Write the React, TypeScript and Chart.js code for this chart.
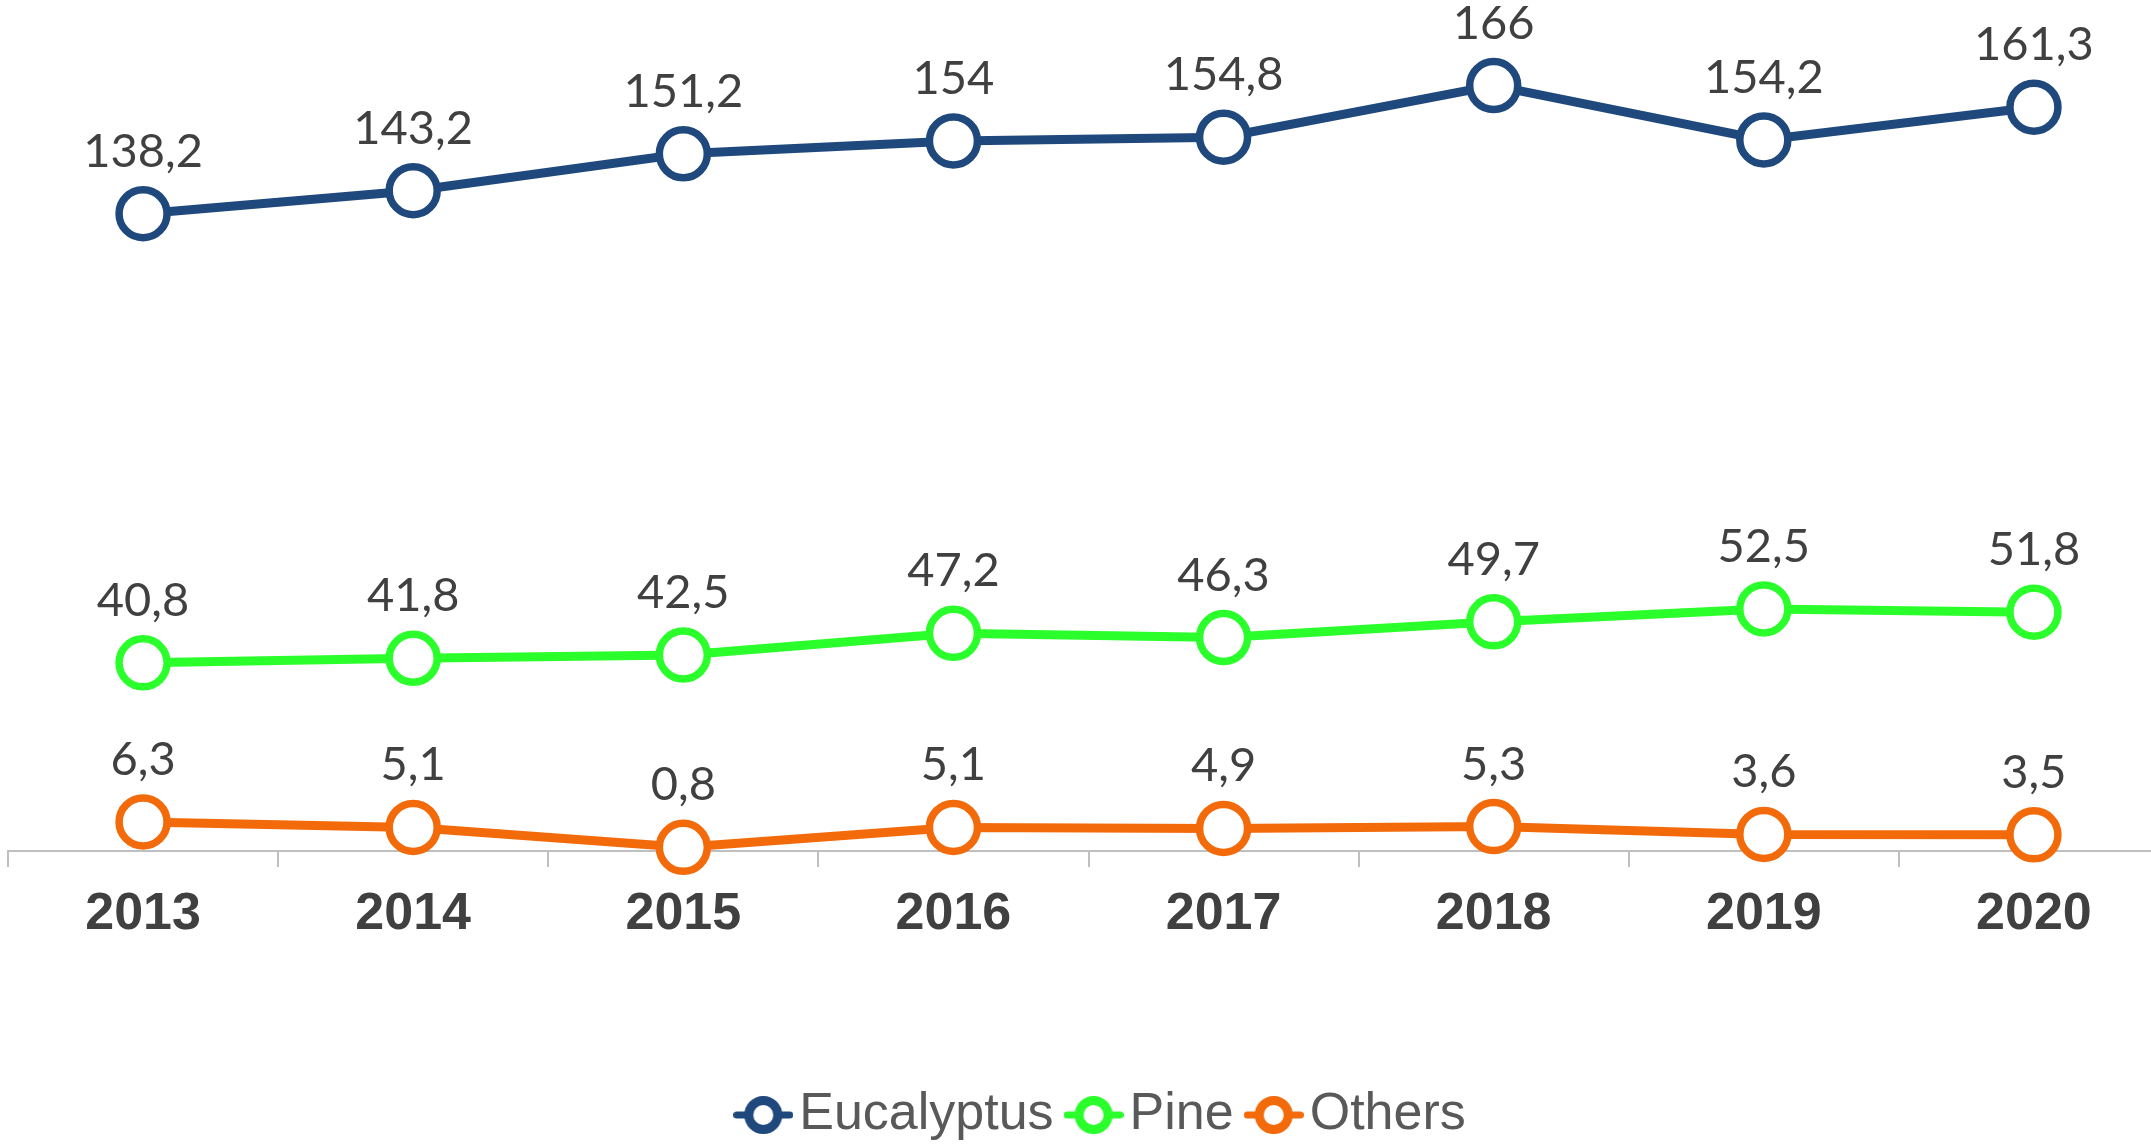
import { useEffect, useRef } from "react";
import { Chart, registerables } from "chart.js";

Chart.register(...registerables);

// ---- data ----
const years = ["2013", "2014", "2015", "2016", "2017", "2018", "2019", "2020"];
const eucalyptus = [138.2, 143.2, 151.2, 154, 154.8, 166, 154.2, 161.3];
const pine = [40.8, 41.8, 42.5, 47.2, 46.3, 49.7, 52.5, 51.8];
const others = [6.3, 5.1, 0.8, 5.1, 4.9, 5.3, 3.6, 3.5];
const seriesNames = ["Eucalyptus", "Pine", "Others"];
const seriesColors = ["#1f497d", "#2bff2b", "#f36a0a"];

const CANVAS_W = 2169;
const CANVAS_H = 1151;

function legendIcon(color: string) {
  const c = document.createElement("canvas");
  c.width = 60;
  c.height = 40;
  const g = c.getContext("2d")!;
  g.strokeStyle = color;
  g.lineCap = "round";
  g.lineWidth = 7;
  g.beginPath();
  g.moveTo(3.5, 20);
  g.lineTo(56.5, 20);
  g.stroke();
  g.beginPath();
  g.arc(30, 20, 14.5, 0, Math.PI * 2);
  g.fillStyle = "#ffffff";
  g.fill();
  g.lineWidth = 9;
  g.stroke();
  return c;
}

const valueLabels = {
  id: "valueLabels",
  afterDatasetsDraw(chart: any) {
    const ctx = chart.ctx;
    ctx.save();
    ctx.font = "47px Lato";
    ctx.fillStyle = "#404040";
    ctx.textAlign = "center";
    ctx.textBaseline = "alphabetic";
    chart.data.datasets.forEach((ds: any, i: number) => {
      const meta = chart.getDatasetMeta(i);
      meta.data.forEach((pt: any, j: number) => {
        const txt = String(ds.data[j]).replace(".", ",");
        ctx.fillText(txt, pt.x, pt.y - 47);
      });
    });
    ctx.restore();
  },
};

const legendShift = {
  id: "legendShift",
  afterLayout(chart: any) {
    const lg = chart.legend;
    if (lg) {
      lg.left += 21;
      lg.right += 21;
    }
  },
};

export default function App() {
  const ref = useRef<HTMLCanvasElement | null>(null);

  useEffect(() => {
    let chart: Chart | null = null;
    let cancelled = false;
    const build = () => {
      if (cancelled || !ref.current) return;
      const icons = seriesColors.map((c) => legendIcon(c));
      const seriesData = [eucalyptus, pine, others];
      chart = new Chart(ref.current, {
        type: "line",
        data: {
          labels: years,
          datasets: seriesNames.map((name, i) => ({
            label: name,
            data: seriesData[i],
            borderColor: seriesColors[i],
            backgroundColor: "#ffffff",
            borderWidth: 9,
            pointRadius: 24,
            pointHoverRadius: 24,
            pointBorderWidth: 7.5,
            pointBackgroundColor: "#ffffff",
            pointBorderColor: seriesColors[i],
            pointStyle: "circle",
            tension: 0,
            clip: false as any,
          })),
        },
        options: {
          responsive: false,
          animation: false,
          events: [],
          layout: { autoPadding: false, padding: { left: 8, right: 0, top: 21, bottom: 0 } },
          plugins: {
            tooltip: { enabled: false },
            legend: {
              position: "bottom",
              labels: {
                usePointStyle: true,
                pointStyleWidth: 20,
                padding: 30,
                color: "#595959",
                font: { family: "'Liberation Sans', Arial, sans-serif", size: 52 },
                generateLabels: (ch: any) =>
                  ch.data.datasets.map((ds: any, i: number) => ({
                    text: ds.label,
                    pointStyle: icons[i],
                    fillStyle: "#fff",
                    strokeStyle: seriesColors[i],
                    lineWidth: 0,
                    hidden: false,
                    datasetIndex: i,
                    fontColor: "#595959",
                  })),
              },
            },
          },
          scales: {
            x: {
              offset: true,
              grid: {
                offset: true,
                drawOnChartArea: false,
                drawTicks: true,
                tickLength: 16,
                color: "#bfbfbf",
                lineWidth: 2,
              },
              border: { display: true, color: "#bfbfbf", width: 2 },
              ticks: {
                color: "#404040",
                padding: 16,
                maxRotation: 0,
                font: { family: "'Liberation Sans', Arial, sans-serif", size: 52, weight: "bold" },
              },
              afterFit: (scale: any) => {
                scale.height = 208;
              },
            },
            y: { display: false, min: 0, max: 180 },
          },
        },
        plugins: [valueLabels, legendShift],
      });
    };
    const fontsApi = (document as any).fonts;
    if (fontsApi && fontsApi.load) {
      Promise.all([
        fontsApi.load("47px Lato"),
        fontsApi.load("52px 'Liberation Sans'"),
        fontsApi.load("bold 52px 'Liberation Sans'"),
      ])
        .catch(() => null)
        .then(build);
    } else {
      build();
    }
    return () => {
      cancelled = true;
      if (chart) chart.destroy();
    };
  }, []);

  return (
    <div
      style={{
        position: "fixed",
        left: 0,
        top: 0,
        width: 2151,
        height: 1146,
        overflow: "hidden",
        background: "#ffffff",
      }}
    >
      <canvas
        ref={ref}
        width={CANVAS_W}
        height={CANVAS_H}
        style={{ display: "block", width: CANVAS_W, height: CANVAS_H }}
      />
    </div>
  );
}
